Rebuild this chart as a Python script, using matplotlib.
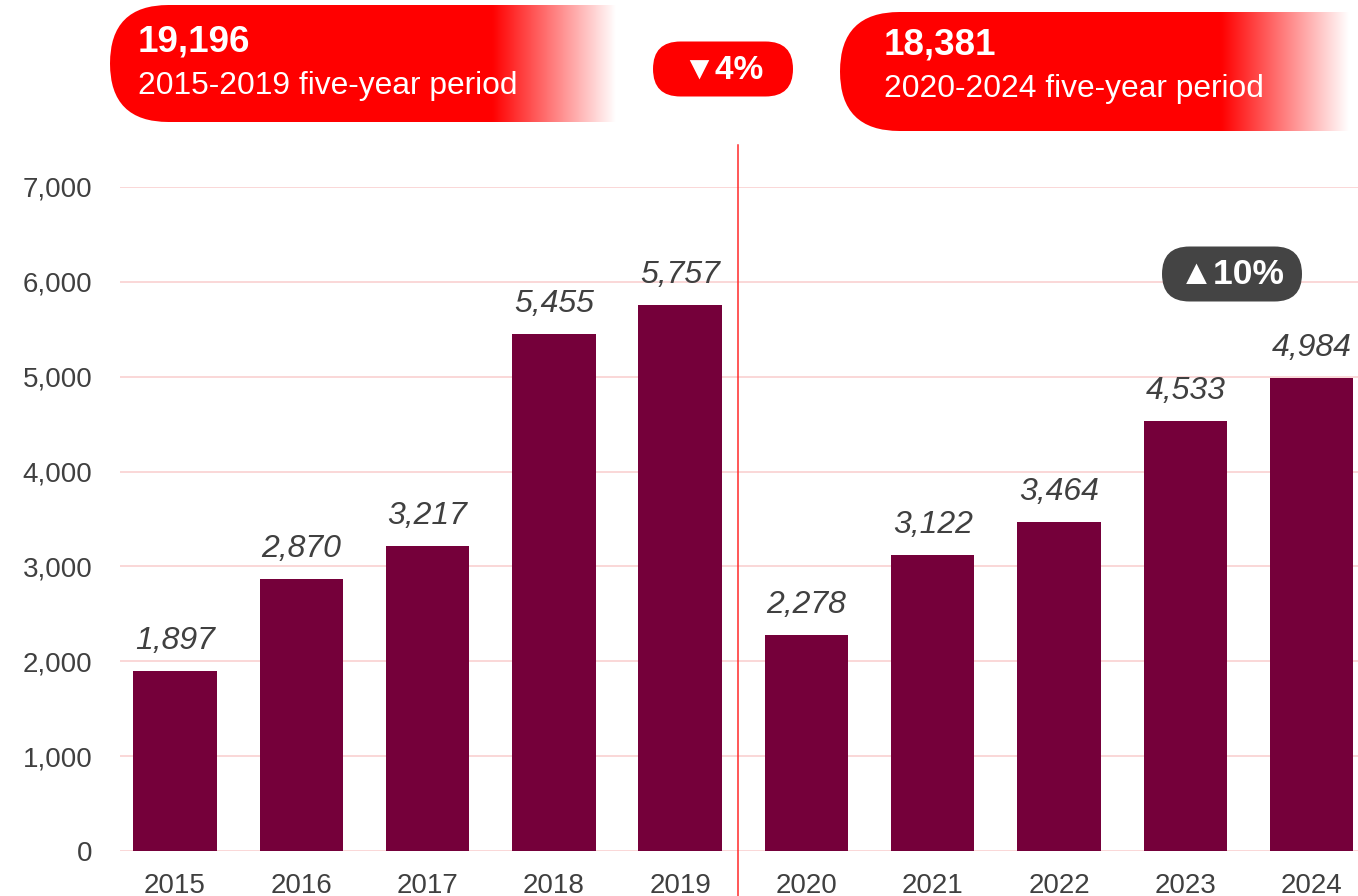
import matplotlib
matplotlib.use("Agg")
import matplotlib.pyplot as plt
import numpy as np
from matplotlib.patches import FancyBboxPatch

years = ["2015", "2016", "2017", "2018", "2019", "2020", "2021", "2022", "2023", "2024"]
counts = [1897, 2870, 3217, 5455, 5757, 2278, 3122, 3464, 4533, 4984]
period_totals = [19196, 18381]
period_labels = ["2015-2019 five-year period", "2020-2024 five-year period"]
period_change = "\u25BC4%"
last_year_change = "\u25B210%"

BAR = "#75003A"
RED = "#FF0000"
GREY_TXT = "#404040"
W, H = 1358, 896

plt.rcParams["font.family"] = ["Liberation Sans", "DejaVu Sans"]

fig = plt.figure(figsize=(W / 100, H / 100), dpi=100)

# main chart
ax = fig.add_axes([120 / W, 45 / H, 1238 / W, 664 / H])
x = np.arange(len(years))
ax.bar(x, counts, width=0.66, color=BAR, zorder=2)
for xi, v in zip(x, counts):
    ax.annotate(f"{v:,}", (xi, v), xytext=(0, 30), textcoords="offset pixels",
                ha="center", va="center", fontsize=23, style="italic",
                color=GREY_TXT)
ax.set_xlim(-0.435, 9.367)
ax.set_ylim(0, 7000)
ax.set_xticks(x)
ax.set_xticklabels(years)
ax.set_yticks(range(0, 7001, 1000))
ax.set_yticklabels([f"{v:,}" for v in range(0, 7001, 1000)])
ax.tick_params(axis="both", length=0, labelsize=20, labelcolor=GREY_TXT)
ax.tick_params(axis="y", pad=20)
ax.tick_params(axis="x", pad=15.5)
ax.yaxis.grid(True, color="#FAD4D4", linewidth=1.3, zorder=0)
ax.set_axisbelow(True)
for s in ax.spines.values():
    s.set_visible(False)

# overlay in pixel coordinates for banners and badges
ov = fig.add_axes([0, 0, 1, 1], zorder=5)
ov.patch.set_alpha(0)
ov.axis("off")


def banner(x0, y0, y1, solid_end, fade_end, total, label, tx, ty):
    h = y1 - y0
    box = FancyBboxPatch((x0, y0), fade_end + h - x0, h,
                         boxstyle=f"round,pad=0,rounding_size={h / 2}",
                         facecolor="none", edgecolor="none")
    ov.add_patch(box)
    n = 400
    xs = np.linspace(x0, fade_end, n)
    alpha = np.clip((fade_end - xs) / (fade_end - solid_end), 0, 1)
    img = np.zeros((1, n, 4))
    img[..., 0] = 1.0
    img[..., 3] = alpha
    im = ov.imshow(img, extent=(x0, fade_end, y1, y0), aspect="auto",
                   interpolation="bilinear")
    im.set_clip_path(box)
    ov.text(tx, ty, f"{total:,}", color="white", fontsize=26.5,
            fontweight="bold", ha="left", va="center")
    ov.text(tx, ty + 44, label, color="white", fontsize=22.9,
            ha="left", va="center")


def badge(cx, cy, w, h, text, color, size):
    ov.add_patch(FancyBboxPatch((cx - w / 2, cy - h / 2), w, h,
                                boxstyle=f"round,pad=0,rounding_size={h / 2}",
                                facecolor=color, edgecolor="none"))
    ov.text(cx, cy + 1, text, color="white", fontsize=size, fontweight="bold",
            ha="center", va="center")


banner(110, 5, 122, 493, 617, period_totals[0], period_labels[0], 138, 42)
banner(840, 12, 131, 1222, 1350, period_totals[1], period_labels[1], 884, 45)
badge(723, 69, 140, 55, period_change, RED, 24)
badge(1232, 274, 140, 55, last_year_change, "#444444", 25.5)

ov.plot([738, 738], [145, 896], color="#FF2A2A", linewidth=1.1)

ov.set_xlim(0, W)
ov.set_ylim(H, 0)

fig.savefig("out.png", dpi=100)
